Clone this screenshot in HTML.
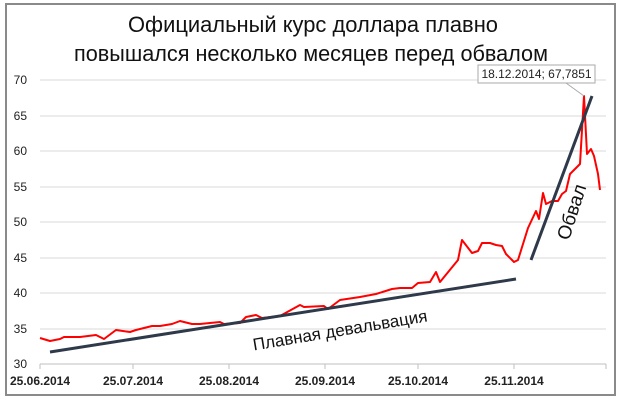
<!DOCTYPE html>
<html><head><meta charset="utf-8"><style>
html,body{margin:0;padding:0;background:#fff;}
svg{display:block;font-family:"Liberation Sans","DejaVu Sans",sans-serif;}
</style></head><body>
<svg width="620" height="401" viewBox="0 0 620 401" xmlns="http://www.w3.org/2000/svg">
<rect x="0" y="0" width="620" height="401" fill="#fff"/>
<rect x="6" y="4" width="609" height="391" fill="none" stroke="#8a8a8a" stroke-width="2"/>
<text x="313" y="32" font-size="22" text-anchor="middle" textLength="370" lengthAdjust="spacingAndGlyphs" fill="#111">Официальный курс доллара плавно</text>
<text x="311" y="61" font-size="22" text-anchor="middle" textLength="474" lengthAdjust="spacingAndGlyphs" fill="#111">повышался несколько месяцев перед обвалом</text>
<g stroke="#d9d9d9" stroke-width="1">
<line x1="40" x2="606" y1="80" y2="80"/><line x1="40" x2="606" y1="116" y2="116"/>
<line x1="40" x2="606" y1="151" y2="151"/><line x1="40" x2="606" y1="187" y2="187"/>
<line x1="40" x2="606" y1="222" y2="222"/><line x1="40" x2="606" y1="258" y2="258"/>
<line x1="40" x2="606" y1="293" y2="293"/><line x1="40" x2="606" y1="329" y2="329"/>
</g>
<line x1="40" x2="606" y1="364" y2="364" stroke="#bfbfbf"/>
<g stroke="#bfbfbf"><line x1="40" x2="40" y1="364" y2="369"/><line x1="133" x2="133" y1="364" y2="369"/><line x1="229" x2="229" y1="364" y2="369"/><line x1="325" x2="325" y1="364" y2="369"/><line x1="418" x2="418" y1="364" y2="369"/><line x1="514" x2="514" y1="364" y2="369"/><line x1="606" x2="606" y1="364" y2="369"/></g>
<g font-size="12" fill="#222" text-anchor="end">
<text x="27" y="84">70</text><text x="27" y="120">65</text><text x="27" y="155">60</text><text x="27" y="191">55</text><text x="27" y="226">50</text><text x="27" y="262">45</text><text x="27" y="297">40</text><text x="27" y="333">35</text><text x="27" y="368">30</text>
</g>
<g font-size="12" font-weight="bold" fill="#222" text-anchor="middle">
<text x="40" y="385">25.06.2014</text><text x="133" y="385">25.07.2014</text><text x="229" y="385">25.08.2014</text><text x="325" y="385">25.09.2014</text><text x="418" y="385">25.10.2014</text><text x="514" y="385">25.11.2014</text>
</g>
<polyline fill="none" stroke="#ff0000" stroke-width="2" stroke-linejoin="round" points="40,338 50,341 60,339 64,337 80,337 96,335 104,339 108,336 116,330 130,332 136,330 152,326 160,326 172,324 180,321 192,324 200,324 220,322 224,324 240,323 246,317 256,315 262,318 280,316 300,305 304,307 324,306 328,309 340,300 360,297 376,294 392,289 400,288 412,288 418,283 430,282 436,272 440,282 458,260 462,240 472,253 478,251 482,243 490,243 496,245 502,246 506,254 514,262 518,260 528,228 536,211 539,219 543,193 546,204 552,201 558,201 562,194 566,191 570,174 580,164 584,96 587,154 591,149 594,156 598,174 600,190"/>
<line x1="50" y1="352" x2="516" y2="279" stroke="#2e3a4a" stroke-width="3"/>
<line x1="531" y1="260" x2="592" y2="96" stroke="#2e3a4a" stroke-width="3"/>
<text x="340" y="336" font-size="17" text-anchor="middle" fill="#111" transform="rotate(-9.5 340 330)">Плавная девальвация</text>
<text x="572" y="218" font-size="19" text-anchor="middle" fill="#111" transform="rotate(-72 572 212)">Обвал</text>
<line x1="566" y1="83" x2="584" y2="96" stroke="#aaa" stroke-width="1"/>
<rect x="478" y="65" width="117" height="18" fill="#fff" stroke="#aaa"/>
<text x="536.5" y="78" font-size="12" text-anchor="middle" fill="#222">18.12.2014; 67,7851</text>
</svg>
</body></html>
